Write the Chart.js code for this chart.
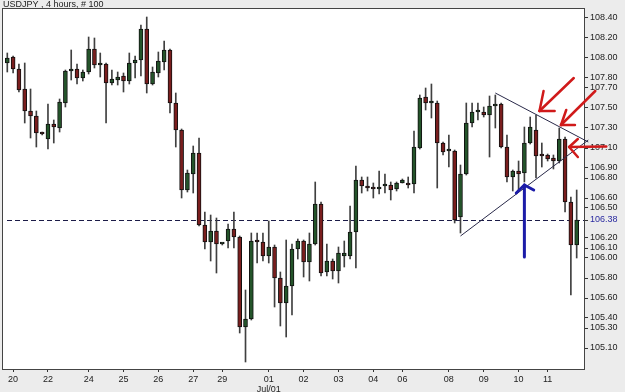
<!DOCTYPE html>
<html><head><meta charset="utf-8">
<script src="https://cdn.jsdelivr.net/npm/chart.js@4/dist/chart.umd.min.js"></script>
<style>html,body{margin:0;padding:0;background:#ececec;overflow:hidden}#wrap{width:625px;height:392px}</style>
</head><body><div id="wrap"><canvas id="c" width="625" height="392"></canvas></div>
<script>
const chartTitle = 'USDJPY , 4 hours, # 100';

const opens  = [107.95,108.01,107.89,107.69,107.47,107.42,107.25,107.19,107.34,107.30,
  107.55,107.87,107.89,107.80,107.86,108.09,107.93,107.94,107.75,107.78,
  107.82,107.77,107.95,107.98,108.29,107.74,107.85,107.96,108.08,107.55,
  107.28,106.68,106.84,107.05,106.33,106.16,106.27,106.14,106.17,106.29,
  106.21,105.31,105.39,106.17,106.16,106.02,106.11,105.80,105.55,105.72,
  106.09,106.17,105.96,106.14,106.54,105.86,105.97,105.87,106.02,106.02,
  106.26,106.78,106.72,106.70,106.69,106.72,106.73,106.69,106.75,106.74,
  106.74,107.10,107.61,107.55,107.55,107.15,107.07,107.07,106.41,106.84,
  107.35,107.46,107.46,107.43,107.52,107.54,107.11,106.81,106.87,106.85,
  107.15,107.28,107.03,107.03,107.00,106.97,107.19,106.56,106.13];
const highs  = [108.05,108.02,107.94,107.95,107.69,107.47,107.26,107.54,107.38,107.59,
  107.88,108.08,107.94,107.88,108.21,108.20,108.05,107.95,107.88,107.86,
  107.85,108.05,108.02,108.33,108.41,107.91,108.06,108.17,108.09,107.65,
  107.29,106.88,107.12,107.20,106.46,106.43,106.40,106.15,106.34,106.46,
  106.22,105.68,106.25,106.25,106.25,106.37,106.13,105.86,106.18,106.14,
  106.19,106.18,106.25,106.76,106.56,106.14,105.99,106.11,106.17,106.52,
  106.92,106.81,106.81,106.75,106.87,106.84,106.76,106.76,106.79,106.81,
  107.27,107.63,107.70,107.74,107.57,107.16,107.23,107.08,106.93,107.55,
  107.55,107.55,107.51,107.62,107.63,107.55,107.23,106.88,106.97,107.31,
  107.41,107.43,107.15,107.04,107.03,107.30,107.21,106.61,106.68];
const lows   = [107.86,107.85,107.66,107.35,107.20,107.11,107.23,107.09,107.15,107.26,
  107.51,107.78,107.74,107.77,107.84,107.90,107.81,107.35,107.73,107.73,
  107.66,107.74,107.80,107.82,107.65,107.73,107.81,107.88,107.45,107.11,
  106.60,106.66,106.65,106.32,106.09,105.97,105.85,106.13,106.10,106.10,
  105.25,104.96,105.38,105.95,105.97,105.95,105.51,105.32,105.21,105.43,
  105.99,105.81,105.77,106.13,105.82,105.82,105.79,105.75,105.91,105.99,
  105.90,106.65,106.67,106.60,106.64,106.65,106.58,106.67,106.75,106.70,
  106.65,107.09,107.48,107.40,106.70,107.03,106.91,106.35,106.25,106.83,
  107.31,107.38,107.41,107.01,107.30,107.10,106.76,106.67,106.67,106.76,
  107.14,106.80,106.91,106.97,106.89,106.95,106.46,105.63,106.00];
const closes = [108.00,107.89,107.68,107.47,107.42,107.25,107.24,107.34,107.31,107.56,
  107.87,107.89,107.80,107.86,108.09,107.93,107.94,107.75,107.79,107.81,
  107.77,107.95,107.98,108.29,107.74,107.86,107.97,108.08,107.55,107.28,
  106.68,106.85,107.05,106.33,106.16,106.27,106.14,106.15,106.29,106.21,
  105.31,105.39,106.17,106.16,106.02,106.11,105.80,105.55,105.72,106.09,
  106.17,105.96,106.14,106.54,105.85,105.97,105.87,106.05,106.05,106.26,
  106.78,106.72,106.70,106.69,106.71,106.73,106.68,106.75,106.78,106.73,
  107.11,107.60,107.55,107.56,107.15,107.06,107.07,106.38,106.84,107.35,
  107.46,107.46,107.43,107.52,107.53,107.11,106.81,106.87,106.84,107.15,
  107.31,107.02,107.02,106.99,106.97,107.19,106.56,106.13,106.38];

const xTickBars   = [2,8,15,21,27,33,38,46,52,58,64,69,77,83,89,94];
const xTickLabels = ['20','22','24','25','26','27','29','01','02','03','04','06','08','09','10','11'];
const monthLabel  = 'Jul/01';
const monthAtTick = '01';
const yTickValues = [108.40,108.20,108.00,107.80,107.70,107.50,107.30,107.10,106.90,106.80,
  106.60,106.50,106.38,106.20,106.10,106.00,105.80,105.60,105.40,105.30,105.10];
const currentPrice = 106.38;

// hand-drawn annotations, in (bar, price) coordinates
const trendLines = [
  [[85,107.65],[101,107.16]],
  [[79,106.22],[101,107.18]]
];
const redArrows = [
  {from:[98.5,107.80], to:[92.6,107.47], arms:[[95.2,107.47],[93.3,107.67]]},
  {from:[102.2,107.67], to:[96.3,107.33], arms:[[98.7,107.33],[97.2,107.48]]},
  {from:[104.1,107.115], to:[97.7,107.11], arms:[[99.2,107.19],[99.2,107.01]]}
];
const blueArrows = [
  {from:[90,106.01], to:[90,106.73], arms:[[88.6,106.65],[91.6,106.68]]}
];

const bars = opens.map((o,k)=>k+1);
const bodyData = bars.map((x,k)=>({x, y:[Math.min(opens[k],closes[k]), Math.max(opens[k],closes[k])]}));
const wickData = bars.map((x,k)=>({x, y:[lows[k], highs[k]]}));
const bodyColors = bars.map((x,k)=> closes[k]>=opens[k] ? '#24542a' : '#7a1e1e');

const deco = {
  id:'deco',
  beforeDraw(chart){
    const {ctx, chartArea:a} = chart;
    ctx.save();
    ctx.fillStyle='#ececec'; ctx.fillRect(0,0,chart.width,chart.height);
    ctx.fillStyle='#ffffff'; ctx.fillRect(a.left,a.top,a.right-a.left,a.bottom-a.top);
    ctx.restore();
  },
  beforeDatasetsDraw(chart){
    const {ctx, chartArea:a, scales:{y}} = chart;
    const py = Math.round(y.getPixelForValue(currentPrice))+0.5;
    ctx.save();
    ctx.strokeStyle='#1c1c48'; ctx.lineWidth=1; ctx.setLineDash([5,3]);
    ctx.beginPath(); ctx.moveTo(a.left+4,py); ctx.lineTo(a.right,py); ctx.stroke();
    ctx.restore();
  },
  afterDraw(chart){
    const {ctx, chartArea:a, scales:{x,y}} = chart;
    ctx.save();
    ctx.strokeStyle='#444'; ctx.lineWidth=1;
    ctx.strokeRect(a.left-0.5, a.top-0.5, a.right-a.left+1, a.bottom-a.top+1);
    const P = pt => [x.getPixelForValue(pt[0]), y.getPixelForValue(pt[1])];
    ctx.strokeStyle='#2a2a4a'; ctx.lineWidth=1;
    trendLines.forEach(l=>{ const p0=P(l[0]), p1=P(l[1]); ctx.beginPath(); ctx.moveTo(...p0); ctx.lineTo(...p1); ctx.stroke(); });
    const drawArrow = (ar, color, w) => {
      ctx.strokeStyle=color; ctx.lineWidth=w; ctx.lineCap='round';
      const f=P(ar.from), t=P(ar.to);
      ctx.beginPath(); ctx.moveTo(...f); ctx.lineTo(...t); ctx.stroke();
      ar.arms.forEach(m=>{ ctx.beginPath(); ctx.moveTo(...t); ctx.lineTo(...P(m)); ctx.stroke(); });
    };
    redArrows.forEach(ar=>drawArrow(ar,'#d01a1a',2.5));
    blueArrows.forEach(ar=>drawArrow(ar,'#1c1ca8',3));
    ctx.restore();
  }
};

new Chart(document.getElementById('c'), {
  type:'bar',
  data:{ datasets:[
    { label:'body', data:bodyData, backgroundColor:bodyColors, borderColor:'#111', borderWidth:1,
      borderSkipped:false, barThickness:4, minBarLength:2, grouped:false, order:0 },
    { label:'wick', data:wickData, backgroundColor:'#404040', borderWidth:0,
      barThickness:1, grouped:false, order:1 }
  ]},
  options:{
    responsive:false, animation:false, devicePixelRatio:1,
    layout:{ padding:{left:3,right:0,top:0,bottom:0} },
    plugins:{
      legend:{display:false}, tooltip:{enabled:false},
      title:{ display:true, text:chartTitle, align:'start', color:'#222',
        font:{family:'"Liberation Sans", Arial, sans-serif', size:9, weight:'normal', lineHeight:1},
        padding:{top:0,bottom:0} }
    },
    scales:{
      x:{ type:'linear', min:0.26, max:100.26, offset:false,
        grid:{display:true, drawOnChartArea:false, drawTicks:true, tickLength:3, color:'#333', offset:false},
        border:{display:false},
        afterBuildTicks:s=>{ s.ticks = xTickBars.map(v=>({value:v})); },
        afterFit:s=>{ s.height = 23; },
        ticks:{ autoSkip:false, maxRotation:0, padding:2, color:'#222',
          font:{family:'"Liberation Sans", Arial, sans-serif', size:9, lineHeight:1.15},
          callback:(v,i)=>{ const t=xTickLabels[i]; return t===monthAtTick ? [t, monthLabel] : t; } }
      },
      y:{ type:'linear', position:'right', min:104.89, max:108.49, beginAtZero:false,
        grid:{display:true, drawOnChartArea:false, drawTicks:true, tickLength:4, color:'#333'},
        border:{display:false},
        afterBuildTicks:s=>{ s.ticks = yTickValues.map(v=>({value:v})); },
        afterFit:s=>{ s.width = 41; },
        ticks:{ autoSkip:false, padding:2,
          color:c=> Math.abs(c.tick.value-currentPrice)<0.001 ? '#2a2aa0' : '#222',
          font:{family:'"Liberation Sans", Arial, sans-serif', size:9},
          callback:v=>Number(v).toFixed(2) }
      }
    }
  },
  plugins:[deco]
});
</script>
</body></html>
